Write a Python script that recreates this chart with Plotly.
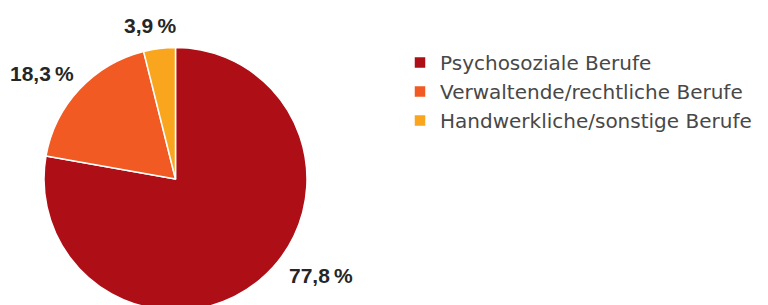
import plotly.graph_objects as go

categories = ["Psychosoziale Berufe", "Verwaltende/rechtliche Berufe", "Handwerkliche/sonstige Berufe"]
values = [77.8, 18.3, 3.9]
value_labels = ["77,8\u2009%", "18,3\u2009%", "3,9\u2009%"]
colors = ["#AE0E16", "#F15A22", "#F9A51D"]

W, H = 768, 312

fig = go.Figure(go.Pie(
    labels=categories,
    values=values,
    textinfo="none",
    sort=False,
    direction="clockwise",
    rotation=0,
    marker=dict(colors=colors, line=dict(color="white", width=1.5)),
    domain=dict(x=[44 / W, 307 / W], y=[(H - 310.5) / H, (H - 47.5) / H]),
    hoverinfo="label+percent",
))

# label centres in pixels (layout only)
label_pos = [(321, 275.5), (42, 73.5), (150, 25.5)]
for txt, (px, py) in zip(value_labels, label_pos):
    fig.add_annotation(
        x=px / W, y=(H - py) / H, xref="paper", yref="paper",
        text=txt, showarrow=False, xanchor="center", yanchor="middle",
        font=dict(family="Liberation Sans", size=21, color="#262626", weight="bold"),
    )

fig.update_layout(
    width=W, height=H,
    margin=dict(l=0, r=0, t=0, b=0),
    paper_bgcolor="white",
    showlegend=True,
    legend=dict(
        x=400 / W, y=(H - 43) / H, xanchor="left", yanchor="top",
        font=dict(family="DejaVu Sans", size=20, color="#484848"),
        tracegroupgap=0, itemwidth=30,
    ),
)

fig.write_html(
    "out.html",
    config={"displayModeBar": False},
    post_script="document.body.style.margin='0';document.body.style.overflow='hidden';document.documentElement.style.overflow='hidden';",
)
